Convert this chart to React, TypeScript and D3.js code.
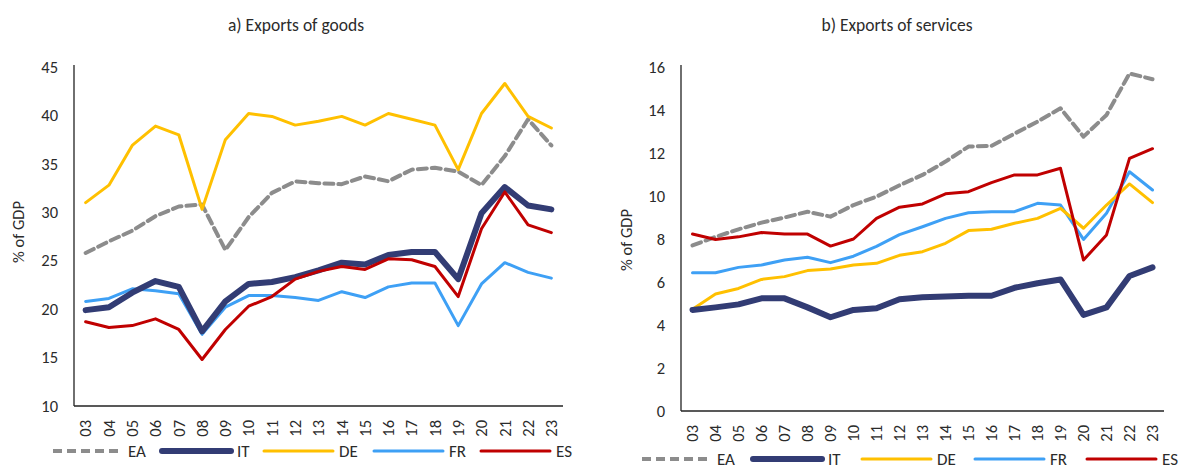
import * as d3 from "d3";
import React from "react";
import { useEffect, RefObject } from "react";

const years = ["03", "04", "05", "06", "07", "08", "09", "10", "11", "12", "13", "14", "15", "16", "17", "18", "19", "20", "21", "22", "23"];

// a) exports of goods, % of GDP
const goodsEA = [25.8, 27.0, 28.1, 29.6, 30.6, 30.8, 26.1, 29.5, 32.0, 33.2, 33.0, 32.9, 33.7, 33.2, 34.4, 34.6, 34.2, 32.8, 35.8, 39.6, 36.9];
const goodsIT = [19.9, 20.2, 21.7, 22.9, 22.3, 17.7, 20.8, 22.6, 22.8, 23.3, 24.0, 24.8, 24.6, 25.6, 25.9, 25.9, 23.1, 29.9, 32.6, 30.7, 30.3];
const goodsDE = [31.0, 32.8, 36.9, 38.9, 38.0, 30.3, 37.5, 40.2, 39.9, 39.0, 39.4, 39.9, 39.0, 40.2, 39.6, 39.0, 34.4, 40.2, 43.3, 39.9, 38.7];
const goodsFR = [20.8, 21.1, 22.1, 21.9, 21.6, 17.4, 20.2, 21.4, 21.4, 21.2, 20.9, 21.8, 21.2, 22.3, 22.7, 22.7, 18.3, 22.6, 24.8, 23.8, 23.2];
const goodsES = [18.7, 18.1, 18.3, 19.0, 17.9, 14.8, 17.9, 20.3, 21.3, 23.1, 23.9, 24.4, 24.1, 25.2, 25.1, 24.4, 21.3, 28.3, 32.1, 28.7, 27.9];

// b) exports of services, % of GDP
const servEA = [7.7, 8.1, 8.45, 8.76, 9.0, 9.27, 9.04, 9.58, 9.97, 10.5, 10.98, 11.6, 12.3, 12.33, 12.9, 13.46, 14.08, 12.76, 13.77, 15.7, 15.43];
const servIT = [4.7, 4.82, 4.96, 5.24, 5.24, 4.82, 4.36, 4.7, 4.78, 5.2, 5.29, 5.32, 5.36, 5.36, 5.73, 5.94, 6.12, 4.47, 4.82, 6.28, 6.68];
const servDE = [4.73, 5.44, 5.7, 6.12, 6.25, 6.53, 6.6, 6.79, 6.87, 7.24, 7.41, 7.8, 8.39, 8.45, 8.73, 8.96, 9.43, 8.5, 9.58, 10.56, 9.69];
const servFR = [6.43, 6.43, 6.68, 6.79, 7.02, 7.15, 6.9, 7.2, 7.66, 8.2, 8.57, 8.96, 9.22, 9.27, 9.27, 9.66, 9.58, 7.98, 9.2, 11.13, 10.28];
const servES = [8.23, 7.98, 8.1, 8.3, 8.23, 8.23, 7.67, 8.0, 8.96, 9.48, 9.63, 10.1, 10.2, 10.62, 10.98, 10.98, 11.29, 7.02, 8.19, 11.75, 12.2];

const seriesNames = ["EA", "IT", "DE", "FR", "ES"];
const goodsTicks = [10, 15, 20, 25, 30, 35, 40, 45];
const servTicks = [0, 2, 4, 6, 8, 10, 12, 14, 16];

const styles: any = {
    EA: { color: "#8c8c8c", width: 4, dash: "9,5" },
    IT: { color: "#323c74", width: 6, dash: null },
    DE: { color: "#ffc000", width: 3, dash: null },
    FR: { color: "#3ea0f5", width: 3, dash: null },
    ES: { color: "#c00000", width: 3, dash: null },
};

const font = "Calibri, Carlito, Lato, 'Open Sans', sans-serif";
const textColor = "#2b2b2b";

function drawPanel(svg: any, opt: any) {
    const { left, right, top, bottom, ticks, title, titleX, data, legendX, ylabelX, ylabelY } = opt;
    const g = svg.append("g");

    let x = d3.scaleBand().domain(years).range([left, right]);
    let y = d3.scaleLinear().domain([ticks[0], ticks[ticks.length - 1]]).range([bottom, top]);

    g.append("text")
        .attr("x", titleX)
        .attr("y", 31)
        .attr("text-anchor", "middle")
        .style("font", `17.5px ${font}`)
        .attr("fill", textColor)
        .text(title);

    // y tick labels
    g.selectAll(".ytick")
        .data(ticks)
        .enter().append("text")
        .attr("x", left - 16)
        .attr("y", (d: number) => y(d))
        .attr("dy", "0.35em")
        .attr("text-anchor", "end")
        .style("font", `16.5px ${font}`)
        .attr("fill", textColor)
        .text((d: number) => d);

    g.append("text")
        .attr("transform", `translate(${ylabelX},${ylabelY}) rotate(-90)`)
        .attr("text-anchor", "middle")
        .attr("dy", "0.35em")
        .style("font", `16.5px ${font}`)
        .attr("fill", textColor)
        .text("% of GDP");

    // axes lines
    g.append("line")
        .attr("x1", left).attr("x2", left)
        .attr("y1", top - 2).attr("y2", bottom)
        .attr("stroke", "#222").attr("stroke-width", 1.3);
    g.append("line")
        .attr("x1", left).attr("x2", right)
        .attr("y1", bottom).attr("y2", bottom)
        .attr("stroke", "#222").attr("stroke-width", 1.3);

    // x tick labels, rotated
    g.selectAll(".xtick")
        .data(years)
        .enter().append("text")
        .attr("transform", (d: string) => `translate(${(x(d) || 0) + x.bandwidth() / 2},${bottom + 14}) rotate(-90)`)
        .attr("text-anchor", "end")
        .attr("dy", "0.35em")
        .style("font", `16.5px ${font}`)
        .attr("fill", textColor)
        .text((d: string) => d);

    const line = d3.line<number>()
        .x((d, i) => (x(years[i]) || 0) + x.bandwidth() / 2)
        .y((d) => y(d));

    // draw order: EA, FR, DE, IT, ES
    const order = ["EA", "FR", "DE", "IT", "ES"];
    order.forEach((name) => {
        const s = styles[name];
        g.append("path")
            .attr("d", line(data[name]))
            .attr("fill", "none")
            .attr("stroke", s.color)
            .attr("stroke-width", s.width)
            .attr("stroke-linejoin", "round")
            .attr("stroke-linecap", "round")
            .attr("stroke-dasharray", s.dash);
    });

    // legend
    const ly = opt.legendY;
    seriesNames.forEach((name, i) => {
        const s = styles[name];
        const lx = legendX[i];
        g.append("line")
            .attr("x1", lx).attr("x2", lx + 69)
            .attr("y1", ly).attr("y2", ly)
            .attr("stroke", s.color)
            .attr("stroke-width", s.width)
            .attr("stroke-linecap", s.dash ? "butt" : "round")
            .attr("stroke-dasharray", s.dash);
        g.append("text")
            .attr("x", lx + 75)
            .attr("y", ly)
            .attr("dy", "0.35em")
            .style("font", `17px ${font}`)
            .attr("fill", textColor)
            .text(name);
    });
}

function InitChart(svgRef: RefObject<SVGSVGElement>) {
    let svg = d3.select(svgRef.current);
    svg.selectAll("*").remove();

    drawPanel(svg, {
        left: 74, right: 563, top: 67, bottom: 406,
        ticks: goodsTicks,
        title: "a) Exports of goods", titleX: 296,
        data: { EA: goodsEA, IT: goodsIT, DE: goodsDE, FR: goodsFR, ES: goodsES },
        legendX: [53, 162, 264, 374, 481], legendY: 451,
        ylabelX: 18, ylabelY: 232,
    });

    drawPanel(svg, {
        left: 681, right: 1164, top: 67, bottom: 411,
        ticks: servTicks,
        title: "b) Exports of services", titleX: 897,
        data: { EA: servEA, IT: servIT, DE: servDE, FR: servFR, ES: servES },
        legendX: [642, 753, 862, 975, 1087], legendY: 459,
        ylabelX: 626, ylabelY: 240,
    });
}

export default function App() {
    const svg = React.useRef<SVGSVGElement>(null);
    useEffect(() => {
        document.body.style.margin = "0";
        InitChart(svg);
    });

    return (
        <div style={{ background: "#fff" }}>
            <svg ref={svg} width={1187} height={469} style={{ display: "block" }}></svg>
        </div>
    );
}
